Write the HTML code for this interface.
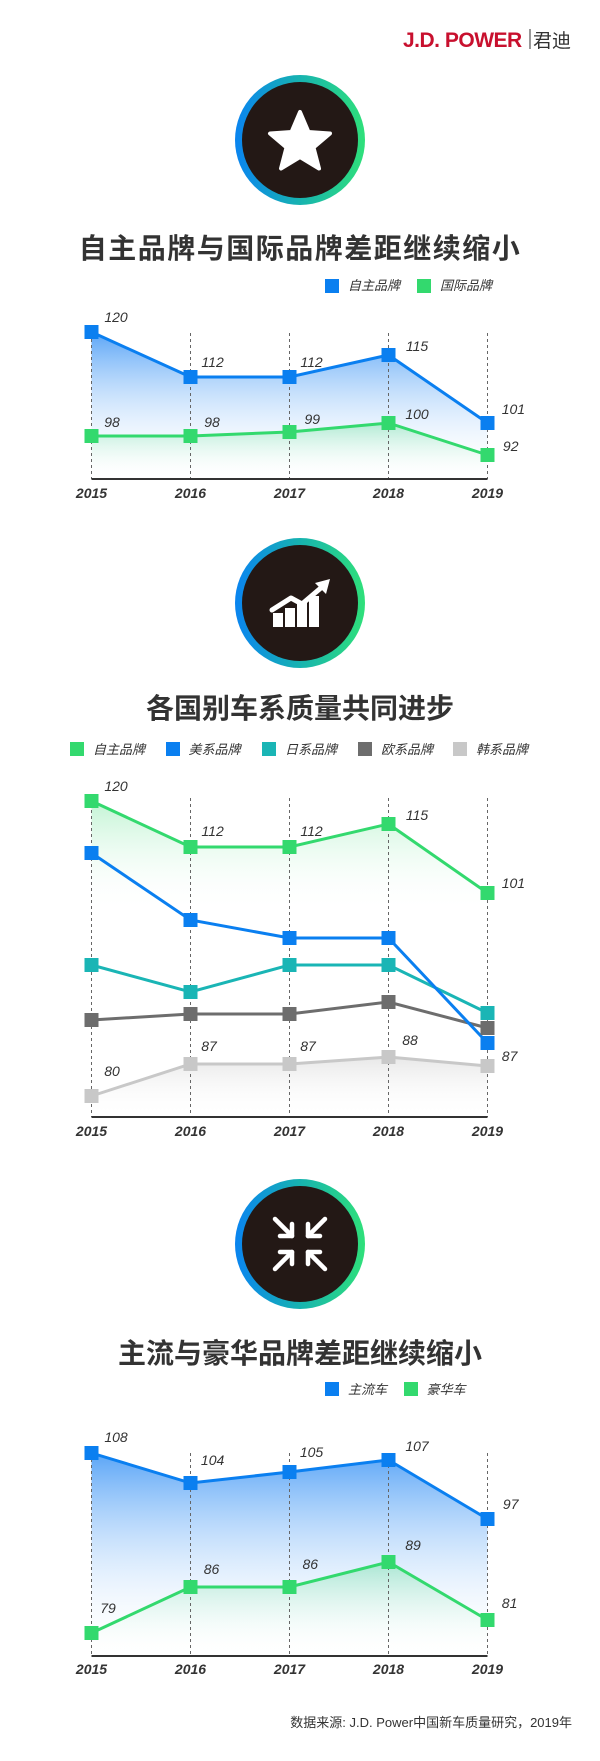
<!DOCTYPE html>
<html><head><meta charset="utf-8"><style>
html,body{margin:0;padding:0;background:#fff;}
svg{display:block;}
text{font-family:"Liberation Sans","Noto Sans CJK SC",sans-serif;}
.t{font-size:28px;font-weight:bold;fill:#333;text-anchor:middle;}
.lg{font-size:13px;font-style:italic;fill:#333;}
.v{font-size:14px;font-style:italic;fill:#333;text-anchor:middle;}
.y{font-size:14px;font-style:italic;font-weight:bold;fill:#333;text-anchor:middle;}
.d{stroke:#666;stroke-width:1;stroke-dasharray:3,3;}
.ax{stroke:#333;stroke-width:2;}
</style></head><body>
<svg width="600" height="1761" viewBox="0 0 600 1761" xmlns="http://www.w3.org/2000/svg">
<defs>
<linearGradient id="ring" x1="0" y1="0" x2="1" y2="0"><stop offset="0" stop-color="#0a84f0"/><stop offset="0.5" stop-color="#17b3b0"/><stop offset="1" stop-color="#2fe07a"/></linearGradient>
<linearGradient id="gb" x1="0" y1="0" x2="0" y2="1"><stop offset="0" stop-color="#3d95f5" stop-opacity="0.85"/><stop offset="1" stop-color="#ffffff" stop-opacity="0"/></linearGradient>
<linearGradient id="gg" x1="0" y1="0" x2="0" y2="1"><stop offset="0" stop-color="#33d96e" stop-opacity="0.3"/><stop offset="1" stop-color="#ffffff" stop-opacity="0"/></linearGradient>
<linearGradient id="gg2" x1="0" y1="0" x2="0" y2="1"><stop offset="0" stop-color="#33d96e" stop-opacity="0.3"/><stop offset="0.35" stop-color="#ffffff" stop-opacity="0"/></linearGradient>
<linearGradient id="gl" x1="0" y1="0" x2="0" y2="1"><stop offset="0" stop-color="#bbbbbb" stop-opacity="0.35"/><stop offset="1" stop-color="#ffffff" stop-opacity="0"/></linearGradient>
</defs>

<!-- logo -->
<text x="403" y="47" style="font-size:21px;font-weight:bold;fill:#c8102e;letter-spacing:-0.5px">J.D. POWER</text>
<line x1="530" y1="29" x2="530" y2="49" stroke="#333" stroke-width="1"/>
<text x="533" y="47" style="font-size:19px;fill:#333">君迪</text>

<!-- circle 1 -->
<circle cx="300" cy="140" r="65" fill="url(#ring)"/>
<circle cx="300" cy="140" r="58" fill="#231815"/>
<polygon points="300,112 308.5,132 330,133.5 313.5,147.5 319,168.5 300,157 281,168.5 286.5,147.5 270,133.5 291.5,132" fill="#fff" stroke="#fff" stroke-width="4" stroke-linejoin="round"/>

<text class="t" x="300" y="258" style="letter-spacing:1.5px">自主品牌与国际品牌差距继续缩小</text>
<rect x="325" y="279" width="14" height="14" fill="#0a7ff0"/><text class="lg" x="348" y="290">自主品牌</text>
<rect x="417" y="279" width="14" height="14" fill="#33d96e"/><text class="lg" x="440" y="290">国际品牌</text>

<!-- chart 1 -->
<polygon points="91.5,332 190.5,377 289.5,377 388.5,355 487.5,423 487.5,479 91.5,479" fill="url(#gb)"/>
<polygon points="91.5,436 190.5,436 289.5,432 388.5,423 487.5,455 487.5,479 91.5,479" fill="url(#gg)"/>
<g class="d"><line x1="91.5" y1="333" x2="91.5" y2="479"/><line x1="190.5" y1="333" x2="190.5" y2="479"/><line x1="289.5" y1="333" x2="289.5" y2="479"/><line x1="388.5" y1="333" x2="388.5" y2="479"/><line x1="487.5" y1="333" x2="487.5" y2="479"/></g>
<line class="ax" x1="91.5" y1="479" x2="487.5" y2="479"/>
<polyline points="91.5,332 190.5,377 289.5,377 388.5,355 487.5,423" fill="none" stroke="#0a7ff0" stroke-width="3"/>
<polyline points="91.5,436 190.5,436 289.5,432 388.5,423 487.5,455" fill="none" stroke="#33d96e" stroke-width="3"/>
<g fill="#0a7ff0"><rect x="84.5" y="325" width="14" height="14"/><rect x="183.5" y="370" width="14" height="14"/><rect x="282.5" y="370" width="14" height="14"/><rect x="381.5" y="348" width="14" height="14"/><rect x="480.5" y="416" width="14" height="14"/></g>
<g fill="#33d96e"><rect x="84.5" y="429" width="14" height="14"/><rect x="183.5" y="429" width="14" height="14"/><rect x="282.5" y="425" width="14" height="14"/><rect x="381.5" y="416" width="14" height="14"/><rect x="480.5" y="448" width="14" height="14"/></g>
<text class="v" x="116" y="322">120</text><text class="v" x="212.6" y="367">112</text><text class="v" x="311.5" y="367">112</text><text class="v" x="417" y="351">115</text><text class="v" x="513.4" y="414">101</text>
<text class="v" x="112" y="427">98</text><text class="v" x="212" y="427">98</text><text class="v" x="312.3" y="424">99</text><text class="v" x="417" y="419">100</text><text class="v" x="510.7" y="451">92</text>
<text class="y" x="91.5" y="498">2015</text><text class="y" x="190.5" y="498">2016</text><text class="y" x="289.5" y="498">2017</text><text class="y" x="388.5" y="498">2018</text><text class="y" x="487.5" y="498">2019</text>

<!-- circle 2 -->
<circle cx="300" cy="603" r="65" fill="url(#ring)"/>
<circle cx="300" cy="603" r="58" fill="#231815"/>
<g fill="#fff"><rect x="273" y="613" width="10" height="14"/><rect x="285" y="608" width="10" height="19"/><rect x="297" y="603" width="10" height="24"/><rect x="309" y="596" width="10" height="31"/></g>
<polyline points="272,610 291,598 302,604 322,587" fill="none" stroke="#fff" stroke-width="5" stroke-linejoin="round" stroke-linecap="round"/>
<polygon points="330,579 315,583 326,594" fill="#fff"/>

<text class="t" x="300" y="718">各国别车系质量共同进步</text>
<rect x="70" y="742" width="14" height="14" fill="#33d96e"/><text class="lg" x="93" y="754">自主品牌</text>
<rect x="166" y="742" width="14" height="14" fill="#0a7ff0"/><text class="lg" x="188.5" y="754">美系品牌</text>
<rect x="262" y="742" width="14" height="14" fill="#1ab5b5"/><text class="lg" x="285" y="754">日系品牌</text>
<rect x="358" y="742" width="14" height="14" fill="#6d6d6d"/><text class="lg" x="381" y="754">欧系品牌</text>
<rect x="453" y="742" width="14" height="14" fill="#c8c8c8"/><text class="lg" x="476" y="754">韩系品牌</text>

<!-- chart 2 -->
<polygon points="91.5,801 190.5,847 289.5,847 388.5,824 487.5,893 487.5,1117 91.5,1117" fill="url(#gg2)"/>
<polygon points="91.5,1096 190.5,1064 289.5,1064 388.5,1057 487.5,1066 487.5,1117 91.5,1117" fill="url(#gl)"/>
<g class="d"><line x1="91.5" y1="798" x2="91.5" y2="1117"/><line x1="190.5" y1="798" x2="190.5" y2="1117"/><line x1="289.5" y1="798" x2="289.5" y2="1117"/><line x1="388.5" y1="798" x2="388.5" y2="1117"/><line x1="487.5" y1="798" x2="487.5" y2="1117"/></g>
<line class="ax" x1="91.5" y1="1117" x2="487.5" y2="1117"/>
<polyline points="91.5,1096 190.5,1064 289.5,1064 388.5,1057 487.5,1066" fill="none" stroke="#c8c8c8" stroke-width="3"/>
<polyline points="91.5,1020 190.5,1014 289.5,1014 388.5,1002 487.5,1028" fill="none" stroke="#6d6d6d" stroke-width="3"/>
<polyline points="91.5,965 190.5,992 289.5,965 388.5,965 487.5,1013" fill="none" stroke="#1ab5b5" stroke-width="3"/>
<polyline points="91.5,853 190.5,920 289.5,938 388.5,938 487.5,1043" fill="none" stroke="#0a7ff0" stroke-width="3"/>
<polyline points="91.5,801 190.5,847 289.5,847 388.5,824 487.5,893" fill="none" stroke="#33d96e" stroke-width="3"/>
<g fill="#c8c8c8"><rect x="84.5" y="1089" width="14" height="14"/><rect x="183.5" y="1057" width="14" height="14"/><rect x="282.5" y="1057" width="14" height="14"/><rect x="381.5" y="1050" width="14" height="14"/><rect x="480.5" y="1059" width="14" height="14"/></g>
<g fill="#6d6d6d"><rect x="84.5" y="1013" width="14" height="14"/><rect x="183.5" y="1007" width="14" height="14"/><rect x="282.5" y="1007" width="14" height="14"/><rect x="381.5" y="995" width="14" height="14"/><rect x="480.5" y="1021" width="14" height="14"/></g>
<g fill="#1ab5b5"><rect x="84.5" y="958" width="14" height="14"/><rect x="183.5" y="985" width="14" height="14"/><rect x="282.5" y="958" width="14" height="14"/><rect x="381.5" y="958" width="14" height="14"/><rect x="480.5" y="1006" width="14" height="14"/></g>
<g fill="#0a7ff0"><rect x="84.5" y="846" width="14" height="14"/><rect x="183.5" y="913" width="14" height="14"/><rect x="282.5" y="931" width="14" height="14"/><rect x="381.5" y="931" width="14" height="14"/><rect x="480.5" y="1036" width="14" height="14"/></g>
<g fill="#33d96e"><rect x="84.5" y="794" width="14" height="14"/><rect x="183.5" y="840" width="14" height="14"/><rect x="282.5" y="840" width="14" height="14"/><rect x="381.5" y="817" width="14" height="14"/><rect x="480.5" y="886" width="14" height="14"/></g>
<text class="v" x="116" y="791">120</text><text class="v" x="212.6" y="836">112</text><text class="v" x="311.5" y="836">112</text><text class="v" x="417" y="820">115</text><text class="v" x="513.4" y="888">101</text>
<text class="v" x="112" y="1076">80</text><text class="v" x="209" y="1051">87</text><text class="v" x="308" y="1051">87</text><text class="v" x="410" y="1045">88</text><text class="v" x="509.6" y="1061">87</text>
<text class="y" x="91.5" y="1136">2015</text><text class="y" x="190.5" y="1136">2016</text><text class="y" x="289.5" y="1136">2017</text><text class="y" x="388.5" y="1136">2018</text><text class="y" x="487.5" y="1136">2019</text>

<!-- circle 3 -->
<circle cx="300" cy="1244" r="65" fill="url(#ring)"/>
<circle cx="300" cy="1244" r="58" fill="#231815"/>
<g stroke="#fff" stroke-width="4.5" stroke-linecap="round" fill="none" stroke-linejoin="round">
<line x1="275" y1="1219" x2="292" y2="1236"/><polyline points="292,1224 292,1236 280,1236"/>
<line x1="325" y1="1219" x2="308" y2="1236"/><polyline points="308,1224 308,1236 320,1236"/>
<line x1="275" y1="1269" x2="292" y2="1252"/><polyline points="292,1264 292,1252 280,1252"/>
<line x1="325" y1="1269" x2="308" y2="1252"/><polyline points="308,1264 308,1252 320,1252"/>
</g>

<text class="t" x="300" y="1363">主流与豪华品牌差距继续缩小</text>
<rect x="325" y="1382" width="14" height="14" fill="#0a7ff0"/><text class="lg" x="348" y="1394">主流车</text>
<rect x="404" y="1382" width="14" height="14" fill="#33d96e"/><text class="lg" x="426.5" y="1394">豪华车</text>

<!-- chart 3 -->
<polygon points="91.5,1453 190.5,1483 289.5,1472 388.5,1460 487.5,1519 487.5,1656 91.5,1656" fill="url(#gb)"/>
<polygon points="91.5,1633 190.5,1587 289.5,1587 388.5,1562 487.5,1620 487.5,1656 91.5,1656" fill="url(#gg)"/>
<g class="d"><line x1="91.5" y1="1453" x2="91.5" y2="1656"/><line x1="190.5" y1="1453" x2="190.5" y2="1656"/><line x1="289.5" y1="1453" x2="289.5" y2="1656"/><line x1="388.5" y1="1453" x2="388.5" y2="1656"/><line x1="487.5" y1="1453" x2="487.5" y2="1656"/></g>
<line class="ax" x1="91.5" y1="1656" x2="487.5" y2="1656"/>
<polyline points="91.5,1453 190.5,1483 289.5,1472 388.5,1460 487.5,1519" fill="none" stroke="#0a7ff0" stroke-width="3"/>
<polyline points="91.5,1633 190.5,1587 289.5,1587 388.5,1562 487.5,1620" fill="none" stroke="#33d96e" stroke-width="3"/>
<g fill="#0a7ff0"><rect x="84.5" y="1446" width="14" height="14"/><rect x="183.5" y="1476" width="14" height="14"/><rect x="282.5" y="1465" width="14" height="14"/><rect x="381.5" y="1453" width="14" height="14"/><rect x="480.5" y="1512" width="14" height="14"/></g>
<g fill="#33d96e"><rect x="84.5" y="1626" width="14" height="14"/><rect x="183.5" y="1580" width="14" height="14"/><rect x="282.5" y="1580" width="14" height="14"/><rect x="381.5" y="1555" width="14" height="14"/><rect x="480.5" y="1613" width="14" height="14"/></g>
<text class="v" x="116" y="1442">108</text><text class="v" x="212.6" y="1465">104</text><text class="v" x="311.5" y="1457">105</text><text class="v" x="417" y="1451">107</text><text class="v" x="510.7" y="1509">97</text>
<text class="v" x="108" y="1613">79</text><text class="v" x="211.5" y="1574">86</text><text class="v" x="310.3" y="1569">86</text><text class="v" x="413" y="1550">89</text><text class="v" x="509.6" y="1608">81</text>
<text class="y" x="91.5" y="1674">2015</text><text class="y" x="190.5" y="1674">2016</text><text class="y" x="289.5" y="1674">2017</text><text class="y" x="388.5" y="1674">2018</text><text class="y" x="487.5" y="1674">2019</text>

<text x="572" y="1727" style="font-size:13px;fill:#333;text-anchor:end">数据来源: J.D. Power中国新车质量研究，2019年</text>
</svg>
</body></html>
